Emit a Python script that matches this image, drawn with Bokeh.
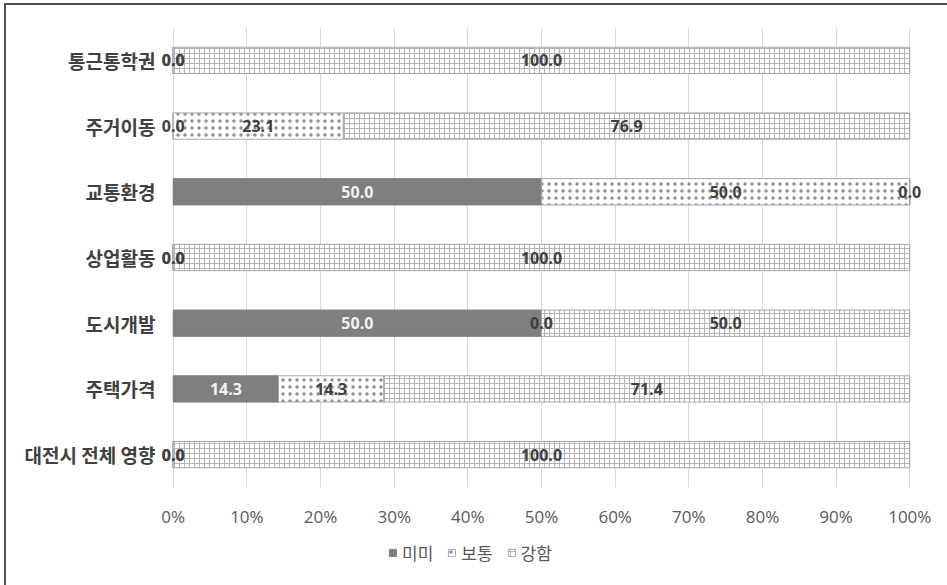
import numpy as np
from bokeh.plotting import figure
from bokeh.layouts import column
from bokeh.models import FactorRange, Range1d, FixedTicker, Legend, LegendItem, ColumnDataSource
from bokeh.core.properties import value
from bokeh.embed import file_html
from bokeh.resources import INLINE

categories = ["통근통학권", "주거이동", "교통환경", "상업활동", "도시개발", "주택가격", "대전시 전체 영향"]
series_names = ["미미", "보통", "강함"]
mimi = [0.0, 0.0, 50.0, 0.0, 50.0, 14.3, 0.0]
botong = [0.0, 23.1, 50.0, 0.0, 0.0, 14.3, 0.0]
gangham = [100.0, 76.9, 0.0, 100.0, 50.0, 71.4, 100.0]
tick_values = [0, 10, 20, 30, 40, 50, 60, 70, 80, 90, 100]
tick_labels = ["0%", "10%", "20%", "30%", "40%", "50%", "60%", "70%", "80%", "90%", "100%"]

KR = "Noto Sans CJK KR"
NUM = "Open Sans"
DARK = "#404040"
LIGHT = "#f2f2f2"

p = figure(
    width=941, height=525,
    y_range=FactorRange(*reversed(categories)),
    x_range=Range1d(-2, 102),
    output_backend="svg", toolbar_location=None,
    min_border_left=152, min_border_right=23, min_border_top=22, min_border_bottom=41,
)
p.outline_line_color = None
p.background_fill_color = "white"

series = [mimi, botong, gangham]
lefts = []
acc = np.zeros(len(categories))
for s in series:
    lefts.append(acc.copy())
    acc = acc + np.array(s)

styles = [
    dict(fill_color="#7f7f7f", line_color="#7f7f7f"),
    dict(fill_color="white", line_color="#a6a6a6", hatch_pattern="dot",
         hatch_color="#8f8f8f", hatch_scale=7, hatch_weight=1),
    dict(fill_color="white", line_color="#a6a6a6", hatch_pattern="cross",
         hatch_color="#b4b4b4", hatch_scale=5, hatch_weight=1),
]

sources = []
for s, l, st in zip(series, lefts, styles):
    src = ColumnDataSource(dict(y=categories, left=l, right=l + np.array(s)))
    sources.append(src)
    p.hbar(y="y", left="left", right="right", height=0.4, source=src, line_width=1, **st)

for i, (s, l) in enumerate(zip(series, lefts)):
    colors = [LIGHT if (i == 0 and v > 0) else DARK for v in s]
    src = ColumnDataSource(dict(y=categories, x=l + np.array(s) / 2,
                                t=["%.1f" % v for v in s], c=colors))
    p.text(x="x", y="y", text="t", source=src, text_align="center", text_baseline="middle",
           text_font=value(NUM), text_font_style="bold", text_font_size="16px", text_color="c")

p.xaxis.ticker = FixedTicker(ticks=tick_values)
p.xaxis.major_label_overrides = {v: t for v, t in zip(tick_values, tick_labels)}
p.xaxis.axis_line_color = None
p.xaxis.major_tick_line_color = None
p.xaxis.minor_tick_line_color = None
p.xaxis.major_tick_out = 0
p.xaxis.major_tick_in = 0
p.xaxis.major_label_standoff = 17
p.xaxis.major_label_text_font = NUM
p.xaxis.major_label_text_font_size = "17px"
p.xaxis.major_label_text_color = "#595959"

p.yaxis.axis_line_color = None
p.yaxis.major_tick_line_color = None
p.yaxis.major_tick_out = 0
p.yaxis.major_tick_in = 0
p.yaxis.major_label_standoff = 3
p.yaxis.major_label_text_font = KR
p.yaxis.major_label_text_font_style = "bold"
p.yaxis.major_label_text_font_size = "19px"
p.yaxis.major_label_text_color = DARK

p.xgrid.grid_line_color = "#d9d9d9"
p.ygrid.grid_line_color = None

# legend strip: the same bars feed the swatches; its y range holds none of the categories,
# so no bar is drawn there (its frame is aligned with the main plot's frame by the column)
lg = figure(width=941, height=55, x_range=Range1d(-2, 102),
            y_range=FactorRange("legend"),
            output_backend="svg", toolbar_location=None,
            x_axis_location=None, y_axis_location=None,
            min_border_left=0, min_border_right=0, min_border_top=0, min_border_bottom=0)
lg.outline_line_color = None
lg.xgrid.visible = False
lg.ygrid.visible = False
leg_renderers = []
for src, st in zip(sources, styles):
    leg_renderers.append(lg.hbar(y="y", left="left", right="right", height=0.4, source=src,
                                 line_width=1, **st))
legend = Legend(
    items=[LegendItem(label=n, renderers=[r]) for n, r in zip(series_names, leg_renderers)],
    orientation="horizontal", location=(230, 20),
    label_text_font=KR, label_text_font_size="17px", label_text_color="#595959",
    glyph_width=9, glyph_height=9, label_standoff=5, spacing=14,
    border_line_color=None, background_fill_alpha=0, margin=0, padding=5,
)
lg.add_layout(legend)

layout = column(p, lg, spacing=0)
layout.styles = {"margin-top": "3px", "margin-left": "4px",
                 "border-top": "2px solid #505050", "border-left": "2px solid #505050"}

open("out.html", "w").write(file_html(layout, INLINE))
